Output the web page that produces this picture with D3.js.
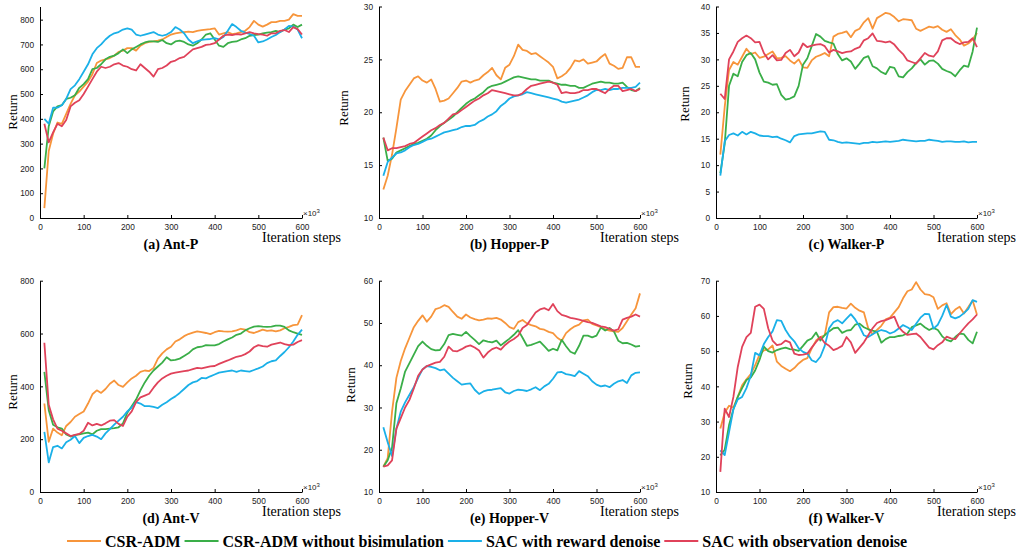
<!DOCTYPE html>
<html>
<head>
<meta charset="utf-8">
<script src="https://cdn.jsdelivr.net/npm/d3@7"></script>
<style>
body { margin: 0; background: #fff; }
</style>
</head>
<body>
<script>
// iteration steps (x10^3), one value every 10k steps
var steps = [10,20,30,40,50,60,70,80,90,100,110,120,130,140,150,160,170,180,190,200,
  210,220,230,240,250,260,270,280,290,300,310,320,330,340,350,360,370,380,390,400,
  410,420,430,440,450,460,470,480,490,500,510,520,530,540,550,560,570,580,590,600];

var xTicks = [0,100,200,300,400,500,600];

var seriesNames = ["CSR-ADM", "CSR-ADM without bisimulation", "SAC with reward denoise", "SAC with observation denoise"];
var seriesColors = ["#f7953b", "#3aae48", "#1ab0e8", "#e0425a"];

//(a) Ant-P
var antP_csr = [40,270,340,385,380,420,460,495,510,530,
  550,580,625,635,640,645,655,670,675,685,
  685,675,695,705,710,712,715,720,730,740,
  745,748,750,752,750,755,758,760,762,765,
  740,745,750,742,745,750,755,770,795,780,
  772,780,790,790,795,795,800,822,815,815];
var antP_nobisim = [200,370,430,450,455,480,485,495,525,540,
  560,600,605,620,640,650,655,665,680,665,
  680,690,700,708,712,712,710,718,705,700,
  712,715,710,700,695,705,720,740,745,720,
  695,690,705,710,712,720,725,735,738,740,
  745,748,750,755,750,760,765,780,770,780];
var antP_reward = [400,380,445,445,455,480,520,535,560,590,
  620,660,685,700,720,735,745,750,760,765,
  760,740,735,740,745,750,740,735,740,750,
  770,760,745,720,705,712,718,720,722,725,
  720,730,755,782,770,755,748,742,735,708,
  712,720,730,738,750,760,775,772,760,725];
var antP_obs = [380,305,345,380,370,395,450,465,475,500,
  530,560,590,610,605,610,620,625,615,610,
  600,595,620,605,590,570,600,605,615,630,
  635,645,650,665,680,685,690,698,700,705,
  720,735,740,738,742,740,745,750,745,742,
  740,735,745,745,755,758,750,770,762,740];

//(b) Hopper-P
var hopperP_csr = [12.7,14.0,16.0,18.5,21.2,22.0,22.6,23.2,23.4,23.0,
  22.8,23.1,22.2,21.0,21.1,21.3,21.8,22.3,22.9,23.0,
  22.8,23.0,23.1,23.5,23.8,24.2,23.5,23.1,24.2,24.5,
  25.3,26.4,25.9,25.8,25.5,25.6,25.3,25.0,24.7,24.3,
  23.2,23.4,23.7,24.2,24.9,24.8,25.0,24.6,24.7,24.8,
  25.2,25.5,24.6,24.4,24.1,24.2,25.2,25.2,24.3,24.3];
var hopperP_nobisim = [17.6,15.4,15.6,16.2,16.4,16.6,16.8,17.0,17.1,17.3,
  17.5,17.8,18.3,18.7,19.0,19.3,19.6,20.0,20.4,20.8,
  21.1,21.3,21.6,21.9,22.3,22.5,22.6,22.7,22.9,23.1,
  23.3,23.4,23.3,23.2,23.1,23.1,23.0,23.0,23.0,22.8,
  22.7,22.6,22.6,22.5,22.5,22.3,22.3,22.5,22.7,22.8,
  22.9,22.8,22.8,22.7,22.7,22.8,22.4,22.1,22.0,22.3];
var hopperP_reward = [14.0,15.3,15.7,16.1,16.2,16.4,16.7,16.9,17.0,17.2,
  17.4,17.5,17.7,17.9,18.1,18.2,18.3,18.4,18.6,18.7,
  18.7,18.8,19.1,19.3,19.6,19.8,20.1,20.6,20.9,21.3,
  21.5,21.6,21.7,21.9,21.8,21.7,21.6,21.5,21.4,21.3,
  21.2,21.0,20.9,21.0,21.1,21.2,21.4,21.6,21.9,22.1,
  22.1,22.2,22.1,22.2,22.2,22.3,22.3,22.3,22.4,22.8];
var hopperP_obs = [17.6,16.4,16.6,16.6,16.7,16.8,17.0,17.1,17.4,17.7,
  18.0,18.3,18.5,18.8,19.0,19.4,19.8,19.9,20.2,20.5,
  20.8,21.1,21.3,21.6,21.8,22.1,22.0,21.9,21.8,21.7,
  21.6,21.6,21.8,22.2,22.5,22.6,22.7,22.8,22.9,22.8,
  22.6,21.8,21.9,21.8,21.8,21.9,22.1,22.1,22.2,22.2,
  22.0,21.8,22.2,22.5,22.5,22.0,22.1,22.2,22.0,22.2];

//(c) Walker-P
var walkerP_csr = [12.0,21.0,28.0,29.5,29.0,30.5,32.0,31.0,31.3,30.3,
  30.5,31.0,31.5,30.2,30.3,30.6,29.8,29.2,30.0,28.5,
  28.4,29.8,30.5,30.8,31.2,30.6,34.3,34.8,35.0,35.3,
  34.2,35.4,35.8,37.0,37.8,35.8,37.8,38.3,38.8,38.6,
  38.0,37.2,37.6,37.5,37.4,35.8,35.4,35.8,36.2,36.0,
  36.3,35.6,35.2,35.7,34.6,33.8,32.6,33.0,33.8,35.0];
var walkerP_nobisim = [8.5,14.0,25.0,27.3,26.8,29.5,30.8,31.2,30.0,27.5,
  25.8,25.6,25.2,25.3,23.3,22.4,22.6,23.0,25.0,29.0,
  30.2,32.5,34.8,34.3,33.5,33.2,33.0,31.0,29.8,30.2,
  29.6,28.2,29.2,30.3,30.6,28.7,28.3,27.6,27.2,28.6,
  28.4,26.8,26.6,27.6,28.3,29.3,30.0,29.0,29.7,29.8,
  29.2,28.2,27.8,27.5,26.8,27.9,28.8,28.6,31.5,36.0];
var walkerP_reward = [8.0,14.5,15.7,16.0,15.6,16.3,15.8,16.3,16.0,15.6,
  15.5,15.5,15.3,15.4,15.0,14.7,14.3,15.5,15.8,15.9,
  16.0,16.0,16.2,16.4,16.3,14.8,14.7,14.4,14.2,14.3,
  14.2,14.1,14.0,14.2,14.2,14.4,14.3,14.4,14.5,14.4,
  14.5,14.6,14.8,14.7,14.6,14.5,14.6,14.6,14.8,14.7,
  14.6,14.4,14.5,14.5,14.4,14.4,14.5,14.3,14.4,14.4];
var walkerP_obs = [23.5,22.5,30.0,31.5,33.3,34.0,34.5,34.0,33.2,33.3,
  31.2,30.0,30.8,29.8,29.9,31.2,31.8,30.6,31.3,33.0,
  32.3,32.6,32.8,32.9,32.5,31.3,31.8,31.5,31.2,31.4,
  31.5,32.0,32.3,33.6,34.0,34.9,33.5,33.4,33.2,33.4,
  32.8,31.8,31.0,29.8,29.5,29.2,30.2,31.2,30.7,30.5,
  31.5,33.6,34.0,34.0,33.3,32.9,33.2,33.3,34.0,32.3];

//(d) Ant-V
var antV_csr = [335,190,240,225,215,250,265,285,295,305,
  335,370,385,375,390,410,422,405,398,415,
  430,440,455,460,458,470,505,525,540,550,
  570,578,590,598,603,608,605,602,598,605,
  610,608,607,608,612,618,615,605,602,608,
  615,610,612,608,612,620,625,632,634,670];
var antV_nobisim = [455,310,255,245,240,218,210,215,218,222,
  225,218,232,238,238,240,242,245,260,300,
  325,350,385,415,440,460,475,490,510,498,
  500,505,515,525,540,548,550,556,555,555,
  560,570,578,585,595,600,612,620,626,628,
  626,625,626,630,630,625,612,605,600,595];
var antV_reward = [228,112,170,175,165,188,198,212,185,205,
  212,216,210,200,222,238,255,270,285,305,
  320,340,335,325,325,322,318,330,340,352,
  362,375,390,405,415,420,432,430,438,445,
  452,455,458,460,455,460,458,456,462,468,
  475,488,495,498,515,530,548,570,595,615];
var antV_obs = [565,330,275,240,232,222,212,216,220,232,
  262,252,258,252,260,270,272,258,250,285,
  305,340,358,365,372,395,415,430,440,448,
  452,455,458,460,465,470,468,472,476,477,
  485,492,498,505,512,515,522,532,548,556,
  552,550,558,562,566,560,556,558,568,575];

//(e) Hopper-V
var hopperV_csr = [16.0,18.0,29.0,37.0,41.0,44.0,46.5,49.0,50.5,51.8,
  50.3,51.5,53.3,53.6,54.2,53.8,52.6,51.5,51.0,52.0,
  51.3,50.9,50.6,50.8,51.1,51.0,51.2,50.8,50.0,49.0,
  48.6,50.2,50.7,49.9,49.5,49.2,48.6,48.4,47.9,47.6,
  46.5,45.8,47.6,48.5,49.2,49.6,50.6,50.8,49.8,49.4,
  49.0,48.5,48.2,48.0,47.9,48.8,50.4,52.0,53.5,57.0];
var hopperV_nobisim = [16.0,17.5,20.5,31.0,34.5,38.5,40.5,42.5,44.5,45.6,
  44.6,43.8,43.5,43.6,45.0,47.1,47.4,47.2,47.0,47.9,
  46.9,46.0,45.0,45.9,45.6,45.4,45.8,44.7,45.5,46.3,
  47.2,48.3,46.5,44.6,44.8,45.2,45.6,44.5,43.4,43.9,
  43.5,46.0,44.5,43.2,42.7,44.6,47.0,47.0,46.6,47.0,
  48.9,48.2,48.8,48.0,45.8,45.2,45.3,44.9,44.4,44.6];
var hopperV_reward = [25.3,21.8,18.5,25.0,29.0,31.2,33.0,34.8,37.0,39.0,
  39.8,39.6,39.3,38.8,39.0,38.0,37.0,36.2,35.4,35.6,
  35.7,34.2,33.2,33.8,34.1,34.2,34.4,34.6,33.6,33.3,
  33.9,34.2,34.1,33.9,34.3,34.8,34.1,35.0,35.6,36.8,
  38.3,38.4,37.9,37.7,37.4,38.6,38.0,37.4,36.2,35.4,
  35.0,35.2,34.8,35.6,36.2,36.5,35.8,37.6,38.2,38.3];
var hopperV_obs = [16.0,16.3,17.5,25.0,27.5,30.0,31.8,34.5,37.5,39.0,
  39.8,40.2,40.6,40.8,42.0,44.4,43.4,43.3,43.8,44.4,
  44.7,44.2,43.5,41.8,43.0,43.8,44.2,43.7,44.8,45.6,
  46.2,47.0,48.8,49.5,51.0,52.5,53.2,53.5,53.0,54.5,
  52.8,51.9,51.6,51.2,51.0,50.8,50.5,50.2,50.0,49.6,
  49.2,49.0,48.6,48.2,48.5,50.8,51.2,51.5,52.0,51.5];

//(f) Walker-V
var walkerV_csr = [28.0,32.5,34.5,34.0,37.0,40.3,42.0,43.5,46.0,49.0,
  50.2,50.5,51.6,47.0,45.8,45.0,44.3,45.2,46.5,47.5,
  48.0,50.8,53.0,54.0,54.5,61.0,62.5,62.6,62.3,62.1,
  63.5,62.3,61.5,61.0,56.5,54.8,56.0,57.2,59.0,59.5,
  61.0,62.5,65.0,67.0,67.5,69.6,67.5,66.2,66.0,65.3,
  62.0,63.0,63.6,60.5,61.8,62.6,60.7,62.5,64.4,60.3];
var walkerV_nobisim = [20.4,22.0,29.0,33.5,37.0,39.5,41.8,42.5,44.5,47.5,
  51.3,50.0,49.6,50.3,50.7,51.0,50.6,50.4,50.1,51.5,
  53.0,53.6,55.3,53.0,54.6,55.6,56.5,56.7,55.2,55.8,
  56.0,57.5,57.8,56.8,56.2,55.8,55.5,52.4,53.4,54.0,
  54.0,54.3,54.5,55.0,56.8,57.3,57.8,56.8,56.0,56.6,
  56.0,54.2,53.2,52.8,54.0,55.0,54.8,53.2,52.2,55.5];
var walkerV_reward = [21.8,20.5,27.0,33.5,36.3,37.0,39.5,43.0,49.5,48.8,
  52.0,54.0,55.6,58.8,58.6,56.0,54.1,52.8,50.8,49.8,
  49.3,47.4,46.9,48.4,51.5,56.5,58.2,58.8,57.9,59.2,
  60.5,59.0,57.0,54.5,54.0,54.8,55.5,56.0,55.7,55.0,
  55.5,56.4,57.4,56.8,56.0,57.8,59.5,60.6,60.5,56.4,
  57.5,60.0,63.1,59.8,59.3,59.8,60.8,62.0,64.5,64.0];
var walkerV_obs = [15.7,33.7,31.3,37.0,45.5,51.2,54.0,55.2,62.6,63.2,
  62.0,56.5,53.0,51.7,52.0,53.0,52.5,49.3,48.9,49.0,
  49.3,51.0,52.6,54.0,52.3,51.5,50.3,50.8,51.5,54.0,
  52.5,49.5,51.0,52.5,54.5,56.5,58.0,58.5,58.8,59.3,
  59.8,56.8,55.5,54.6,54.8,55.0,54.0,52.5,51.0,50.5,
  51.7,52.5,54.1,53.6,53.4,55.0,56.5,57.9,59.0,60.4];

// panel layout
var colX = [[40, 302], [379, 640], [716, 977]];
var rowY = [[218, 6.5], [492, 280.7]];

var panels = [
  {title: "(a) Ant-P", col: 0, row: 0, yDomain: [0, 853], yTicks: [0,100,200,300,400,500,600,700,800],
   data: [antP_csr, antP_nobisim, antP_reward, antP_obs], labelX: 12, labelY: 112},
  {title: "(b) Hopper-P", col: 1, row: 0, yDomain: [10, 30], yTicks: [10,15,20,25,30],
   data: [hopperP_csr, hopperP_nobisim, hopperP_reward, hopperP_obs], labelX: 343, labelY: 108},
  {title: "(c) Walker-P", col: 2, row: 0, yDomain: [0, 40], yTicks: [0,5,10,15,20,25,30,35,40],
   data: [walkerP_csr, walkerP_nobisim, walkerP_reward, walkerP_obs], labelX: 684, labelY: 104},
  {title: "(d) Ant-V", col: 0, row: 1, yDomain: [0, 800], yTicks: [0,200,400,600,800],
   data: [antV_csr, antV_nobisim, antV_reward, antV_obs], labelX: 12, labelY: 392},
  {title: "(e) Hopper-V", col: 1, row: 1, yDomain: [10, 60], yTicks: [10,20,30,40,50,60],
   data: [hopperV_csr, hopperV_nobisim, hopperV_reward, hopperV_obs], labelX: 350, labelY: 385},
  {title: "(f) Walker-V", col: 2, row: 1, yDomain: [10, 70], yTicks: [10,20,30,40,50,60,70],
   data: [walkerV_csr, walkerV_nobisim, walkerV_reward, walkerV_obs], labelX: 687, labelY: 381}
];

var sansFont = "'Liberation Sans', Arial, sans-serif";
var serifFont = "'Liberation Serif', 'Times New Roman', serif";

var svg = d3.select("body").append("svg")
  .attr("width", 1016)
  .attr("height", 552)
  .style("background", "#fff");

panels.forEach(function(p){
  var x0 = colX[p.col][0], x1 = colX[p.col][1];
  var yb = rowY[p.row][0], yt = rowY[p.row][1];

  var x = d3.scaleLinear().domain([0, 600]).range([x0, x1]);
  var y = d3.scaleLinear().domain(p.yDomain).range([yb, yt]);

  var g = svg.append("g");

  // curves
  var line = d3.line()
    .x(function(d, i){ return x(steps[i]); })
    .y(function(d){ return y(d); });

  g.selectAll(".curve").data(p.data).enter().append("path")
    .attr("class", "curve")
    .attr("d", line)
    .attr("fill", "none")
    .attr("stroke", function(d, i){ return seriesColors[i]; })
    .attr("stroke-width", 1.8)
    .attr("stroke-linejoin", "round");

  // axes, ticks pointing inward
  var xAxis = g.append("g")
    .attr("transform", "translate(0," + yb + ")")
    .call(d3.axisBottom(x).tickValues(xTicks).tickSizeInner(-3).tickSizeOuter(0).tickPadding(6));
  var yAxis = g.append("g")
    .attr("transform", "translate(" + x0 + ",0)")
    .call(d3.axisLeft(y).tickValues(p.yTicks).tickSizeInner(-3).tickSizeOuter(0).tickPadding(6));

  [xAxis, yAxis].forEach(function(a){
    a.attr("font-family", sansFont).attr("font-size", 8.3);
    a.selectAll("text").attr("fill", "#222");
  });

  // x10^3 marker
  var mult = g.append("text")
    .attr("x", x1 + 1)
    .attr("y", yb - 2.5)
    .attr("font-family", sansFont)
    .attr("font-size", 8)
    .attr("fill", "#222")
    .text("\u00d710");
  mult.append("tspan").attr("dy", -3).attr("font-size", 6).text("3");

  // y label
  g.append("text")
    .attr("transform", "translate(" + p.labelX + "," + p.labelY + ") rotate(-90)")
    .attr("text-anchor", "middle")
    .attr("dy", "0.35em")
    .attr("font-family", serifFont)
    .attr("font-size", 13)
    .text("Return");

  // x label
  g.append("text")
    .attr("x", x1 - 40)
    .attr("y", yb + 24)
    .attr("font-family", serifFont)
    .attr("font-size", 14)
    .text("Iteration steps");

  // panel title
  g.append("text")
    .attr("x", (x0 + x1) / 2)
    .attr("y", yb + 31)
    .attr("text-anchor", "middle")
    .attr("font-family", serifFont)
    .attr("font-size", 14)
    .attr("font-weight", "bold")
    .text(p.title);
});

// legend along the bottom
var legend = svg.append("g").attr("font-family", serifFont).attr("font-size", 16).attr("font-weight", "bold");
var lx = 67;
seriesNames.forEach(function(name, i){
  legend.append("line")
    .attr("x1", lx).attr("x2", lx + 34)
    .attr("y1", 541).attr("y2", 541)
    .attr("stroke", seriesColors[i])
    .attr("stroke-width", 1.8);
  var t = legend.append("text")
    .attr("x", lx + 38)
    .attr("y", 547)
    .text(name);
  lx = lx + 38 + t.node().getComputedTextLength() + 4;
});
</script>
</body>
</html>
